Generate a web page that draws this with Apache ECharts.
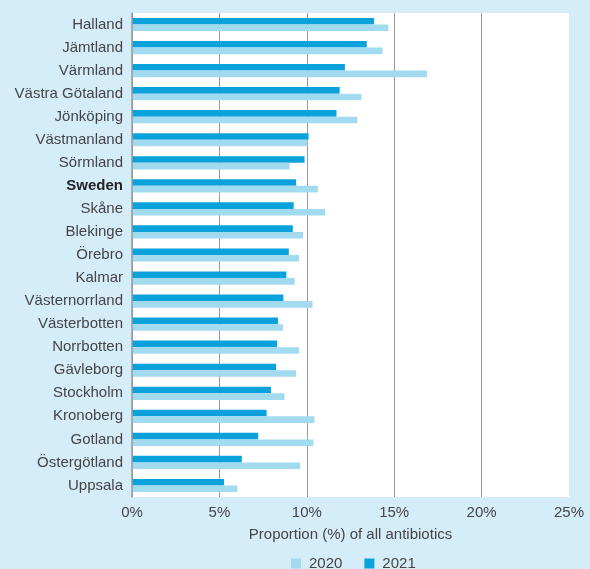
<!DOCTYPE html>
<html>
<head>
<meta charset="utf-8">
<script src="https://cdn.jsdelivr.net/npm/echarts@6/dist/echarts.min.js"></script>
<style>
html,body{margin:0;padding:0;background:#d5ecf9;}
#c{width:590px;height:569px;}
</style>
</head>
<body>
<div id="c"></div>
<script>
var categories = ['Halland','Jämtland','Värmland','Västra Götaland','Jönköping','Västmanland','Sörmland','Sweden','Skåne','Blekinge','Örebro','Kalmar','Västernorrland','Västerbotten','Norrbotten','Gävleborg','Stockholm','Kronoberg','Gotland','Östergötland','Uppsala'];
var values2021 = [13.85,13.43,12.18,11.88,11.70,10.10,9.87,9.39,9.25,9.20,8.97,8.83,8.66,8.35,8.30,8.24,7.95,7.70,7.22,6.28,5.27];
var values2020 = [14.67,14.33,16.88,13.12,12.89,10.04,9.02,10.63,11.05,9.79,9.56,9.31,10.33,8.64,9.56,9.39,8.72,10.44,10.38,9.62,6.03];
var xTicks = [0,5,10,15,20,25];

var chart = echarts.init(document.getElementById('c'), null, {renderer:'canvas'});
var font = 'Liberation Sans, Arial, sans-serif';
var txt = '#454545';
chart.setOption({
  backgroundColor: '#d5ecf9',
  textStyle: {fontFamily: font},
  animation: false,
  grid: {left:132, right:21, top:13, bottom:72, show:true, backgroundColor:'#ffffff', borderWidth:0},
  legend: {
    data: ['2020','2021'],
    top: 551, left: 286,
    itemWidth: 10, itemHeight: 10, itemGap: 22,
    icon: 'rect',
    itemStyle: {borderWidth: 0},
    textStyle: {fontSize: 15, color: txt, fontFamily: font, padding:[0,0,0,3]}
  },
  xAxis: {
    type: 'value', min: 0, max: 25, interval: 5,
    axisLabel: {formatter: function(v){return v + '%';}, fontSize: 15, color: txt, margin: 8, fontFamily: font},
    splitLine: {show:true, showMaxLine:false, lineStyle:{color:'#9a9a9a', width:1}},
    axisLine: {show:false},
    axisTick: {show:false},
    name: 'Proportion (%) of all antibiotics',
    nameLocation: 'middle', nameGap: 30,
    nameTextStyle: {fontSize: 15, color: txt, fontFamily: font}
  },
  yAxis: {
    type: 'category', data: categories, inverse: true, z: 5,
    axisLine: {show:true, lineStyle:{color:'#9a9a9a', width:1.5}},
    axisTick: {show:false},
    axisLabel: {
      fontSize: 15, color: txt, margin: 9, fontFamily: font,
      formatter: function(v){ return v === 'Sweden' ? '{b|' + v + '}' : v; },
      rich: {b: {fontWeight:'bold', fontSize:15, color:'#222', fontFamily: font}}
    }
  },
  series: [
    {name:'2021', type:'bar', data: values2021, barWidth: 6.6, barGap: '0%', z: 2,
     itemStyle:{color:'#0ba1da'}},
    {name:'2020', type:'bar', data: values2020, barWidth: 6.6, barGap: '0%', z: 2,
     itemStyle:{color:'#a2daf0'}}
  ]
});
</script>
</body>
</html>
